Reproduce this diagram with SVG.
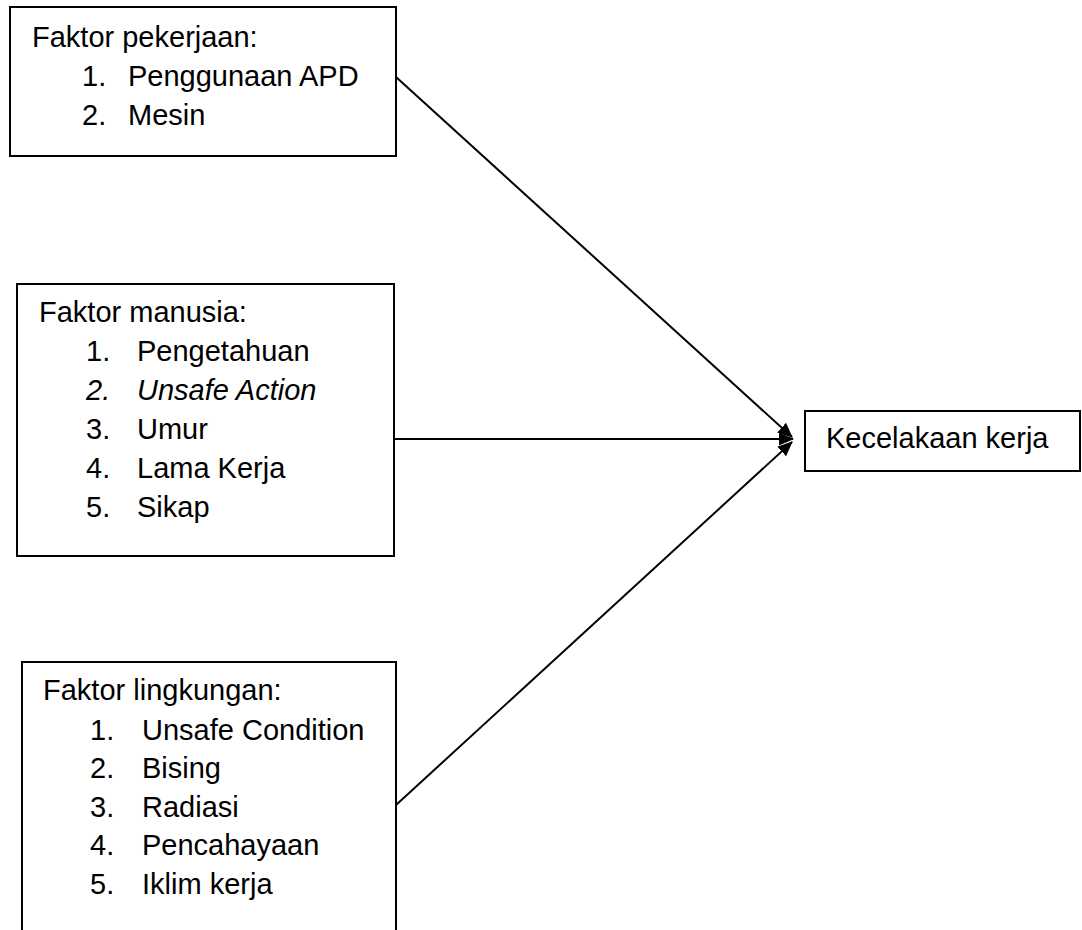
<svg xmlns="http://www.w3.org/2000/svg" width="1082" height="930" viewBox="0 0 1082 930">
<style>
  .box { fill: #ffffff; stroke: #000000; stroke-width: 2; }
  .t { font-family: "Liberation Sans", Arial, sans-serif; font-size: 29px; fill: #000000; }
  .it { font-style: italic; }
  .conn { stroke: #000000; stroke-width: 2; fill: none; marker-end: url(#arrow); }
</style>
<defs>
  <marker id="arrow" viewBox="0 0 15 13" refX="14" refY="6.5" markerWidth="15" markerHeight="13" markerUnits="userSpaceOnUse" orient="auto">
    <path d="M0,0 L15,6.5 L0,13 z" fill="#000000"/>
  </marker>
</defs>
<rect width="1082" height="930" fill="#ffffff"/>

<g id="node-pekerjaan">
  <rect class="box" x="10" y="7" width="386" height="149"/>
  <text class="t" x="32" y="47">Faktor pekerjaan:</text>
  <text class="t" x="82" y="86">1.</text>
  <text class="t" x="128" y="86">Penggunaan APD</text>
  <text class="t" x="82" y="125">2.</text>
  <text class="t" x="128" y="125">Mesin</text>
</g>

<g id="node-manusia">
  <rect class="box" x="17" y="284" width="377" height="272"/>
  <text class="t" x="39" y="322">Faktor manusia:</text>
  <text class="t" x="86" y="361">1.</text>
  <text class="t" x="137" y="361">Pengetahuan</text>
  <text class="t it" x="86" y="400">2.</text>
  <text class="t it" x="137" y="400">Unsafe Action</text>
  <text class="t" x="86" y="439">3.</text>
  <text class="t" x="137" y="439">Umur</text>
  <text class="t" x="86" y="478">4.</text>
  <text class="t" x="137" y="478">Lama Kerja</text>
  <text class="t" x="86" y="517">5.</text>
  <text class="t" x="137" y="517">Sikap</text>
</g>

<g id="node-lingkungan">
  <rect class="box" x="22" y="662" width="374" height="300"/>
  <text class="t" x="43" y="700">Faktor lingkungan:</text>
  <text class="t" x="90" y="740">1.</text>
  <text class="t" x="142" y="740">Unsafe Condition</text>
  <text class="t" x="90" y="778">2.</text>
  <text class="t" x="142" y="778">Bising</text>
  <text class="t" x="90" y="817">3.</text>
  <text class="t" x="142" y="817">Radiasi</text>
  <text class="t" x="90" y="855">4.</text>
  <text class="t" x="142" y="855">Pencahayaan</text>
  <text class="t" x="90" y="894">5.</text>
  <text class="t" x="142" y="894">Iklim kerja</text>
</g>

<g id="node-kecelakaan">
  <rect class="box" x="805" y="411" width="275" height="60"/>
  <text class="t" x="826" y="448">Kecelakaan kerja</text>
</g>

<g id="connectors">
  <line class="conn" x1="396" y1="77" x2="792" y2="437"/>
  <line class="conn" x1="394" y1="439" x2="793" y2="439"/>
  <line class="conn" x1="396" y1="805" x2="792" y2="442"/>
</g>
</svg>
